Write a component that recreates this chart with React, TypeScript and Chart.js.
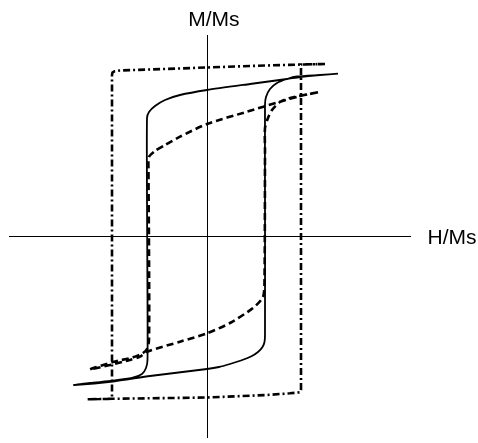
import React, { useEffect, useRef } from "react";
import { Chart, registerables } from "chart.js";

Chart.register(...registerables);

// Axis titles
const xAxisLabel = "H/Ms";
const yAxisLabel = "M/Ms";

// Solid loop (H, M)
const solidH = [
  1.31, 1.13, 0.93, 0.8, 0.43, 0.0, -0.27, -0.42, -0.52, -0.58, -0.6, -0.6, -0.595, -0.595, -0.61, -0.65, -0.75, -0.94, -1.17, -1.33,
  -0.94, -0.57, 0.0, 0.12, 0.23, 0.34, 0.44, 0.51, 0.555, 0.575, 0.58, 0.58, 0.58, 0.59, 0.63, 0.7, 0.8, 0.9, 1.13, 1.31,
];
const solidM = [
  1.633, 1.62, 1.6, 1.58, 1.53, 1.47, 1.42, 1.37, 1.31, 1.25, 1.19, 0.37, -0.63, -1.23, -1.31, -1.37, -1.41, -1.437, -1.46, -1.48,
  -1.445, -1.39, -1.32, -1.3, -1.27, -1.235, -1.195, -1.15, -1.1, -1.05, -0.98, 0.37, 1.32, 1.4, 1.48, 1.54, 1.58, 1.605, 1.62, 1.633,
];

// Dashed loop (H, M)
const dashedH = [
  1.11, 0.93, 0.73, 0.4, 0.0, -0.27, -0.42, -0.52, -0.58, -0.585, -0.58, -0.58, -0.6, -0.64, -0.74, -0.94, -1.17,
  -0.97, -0.77, -0.67, -0.6, -0.27, 0.0, 0.23, 0.46, 0.56, 0.575, 0.58, 0.58, 0.61, 0.65, 0.73, 0.83, 1.11,
];
const dashedM = [
  1.447, 1.41, 1.353, 1.253, 1.13, 1.003, 0.92, 0.86, 0.8, 0.67, -0.13, -1.03, -1.12, -1.16, -1.203, -1.25, -1.323,
  -1.28, -1.23, -1.197, -1.147, -1.047, -0.963, -0.86, -0.71, -0.6, -0.43, 0.87, 1.09, 1.19, 1.27, 1.35, 1.39, 1.447,
];

// Dash-dot loop (H, M)
const dashDotH = [
  1.18, 0.94, 0.43, 0.0, -0.57, -0.87, -0.925, -0.945, -0.95, -0.95, -1.2,
  -0.95, 0.0, 0.6, 0.83, 0.93, 0.94, 0.94, 1.18,
];
const dashDotM = [
  1.73, 1.725, 1.71, 1.695, 1.675, 1.665, 1.657, 1.645, 1.62, -1.618, -1.623,
  -1.618, -1.605, -1.58, -1.563, -1.553, -1.53, 1.725, 1.73,
];

const toPoints = (hs: number[], ms: number[]) => hs.map((h, i) => ({ x: h, y: ms[i] }));

const labelPlugin = {
  id: "axisLabels",
  afterDraw(chart: any) {
    const { ctx, chartArea, scales } = chart;
    const x0 = scales.x.getPixelForValue(0);
    const y0 = scales.y.getPixelForValue(0);
    ctx.save();
    ctx.fillStyle = "#000";
    ctx.font = "21px 'Liberation Sans', Arial, sans-serif";
    ctx.textBaseline = "alphabetic";
    ctx.textAlign = "left";
    ctx.fillText(yAxisLabel, x0 - 18.8, chartArea.top - 9.3);
    ctx.fillText(xAxisLabel, chartArea.right + 17.5, y0 + 6.7);
    ctx.restore();
  },
};

export default function App() {
  const canvasRef = useRef<HTMLCanvasElement | null>(null);

  useEffect(() => {
    if (!canvasRef.current) return;
    const chart = new Chart(canvasRef.current, {
      type: "scatter",
      data: {
        datasets: [
          {
            label: "dash-dot",
            data: toPoints(dashDotH, dashDotM),
            showLine: true,
            borderColor: "#000",
            borderWidth: 2.6,
            borderDash: [7, 3, 2, 3],
            pointRadius: 0,
            tension: 0,
            fill: false,
          },
          {
            label: "dashed",
            data: toPoints(dashedH, dashedM),
            showLine: true,
            borderColor: "#000",
            borderWidth: 2.6,
            borderDash: [7, 4],
            pointRadius: 0,
            tension: 0.25,
            fill: false,
          },
          {
            label: "solid",
            data: toPoints(solidH, solidM),
            showLine: true,
            borderColor: "#000",
            borderWidth: 1.8,
            pointRadius: 0,
            tension: 0.2,
            fill: false,
          },
        ],
      },
      options: {
        responsive: false,
        animation: false,
        devicePixelRatio: 1,
        layout: { padding: { left: 9, right: 68, top: 35, bottom: 6 } },
        plugins: {
          legend: { display: false },
          tooltip: { enabled: false },
          title: { display: false },
        },
        scales: {
          x: {
            type: "linear",
            min: -1.98,
            max: 2.03,
            position: { y: 0 } as any,
            grid: { display: false, drawTicks: false },
            ticks: { display: false },
            border: { display: true, color: "#000", width: 1 },
          },
          y: {
            type: "linear",
            min: -2.0,
            max: 2.02,
            position: { x: 0 } as any,
            grid: { display: false, drawTicks: false },
            ticks: { display: false },
            border: { display: true, color: "#000", width: 1 },
          },
        },
      },
      plugins: [labelPlugin],
    });
    return () => chart.destroy();
  }, []);

  return (
    <div style={{ position: "absolute", left: 0, top: 0, width: 478, height: 443, background: "#fff" }}>
      <canvas ref={canvasRef} width={478} height={443} />
    </div>
  );
}
